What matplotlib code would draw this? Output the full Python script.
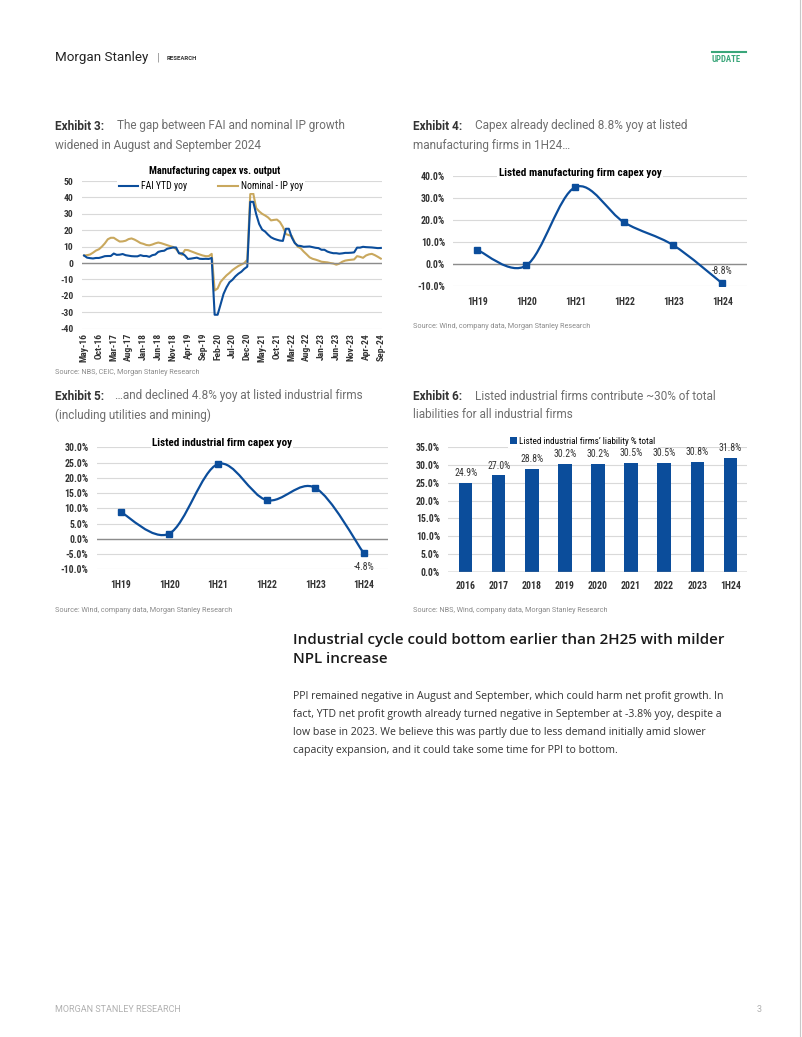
import matplotlib.pyplot as plt
import numpy as np
import pandas as pd
from matplotlib.path import Path
from matplotlib.patches import PathPatch
from matplotlib.lines import Line2D

plt.rcParams["axes.unicode_minus"] = False

# ---- data ----
months = pd.date_range("2016-05-01", "2024-09-01", freq="MS")
month_labels = [d.strftime("%b-%y") for d in months]

fai_ytd = [4.6, 3.3, 3.0, 2.8, 3.1, 3.1, 3.6, 4.2,
           4.3, 4.3, 5.8, 5.0, 5.1, 5.5, 4.8, 4.5, 4.2, 4.1, 4.1, 4.8,
           4.3, 4.3, 3.8, 4.8, 5.2, 6.8, 7.3, 7.5, 8.7, 9.1, 9.5, 9.5,
           5.9, 5.9, 4.6, 2.5, 2.7, 3.0, 3.3, 2.6, 2.5, 2.6, 2.5, 3.1,
           -31.5, -31.5, -25.2, -18.8, -14.8, -11.7, -10.2, -8.1, -6.5, -5.3, -3.5, -2.2,
           37.3, 37.3, 29.8, 23.8, 20.4, 19.2, 17.3, 15.7, 14.8, 14.2, 13.7, 13.5,
           20.9, 20.9, 15.6, 12.2, 10.6, 10.4, 9.9, 10.0, 10.1, 9.7, 9.3, 9.1,
           8.1, 8.1, 7.0, 6.4, 6.0, 6.0, 5.7, 5.9, 6.2, 6.2, 6.3, 6.5,
           9.4, 9.4, 9.9, 9.7, 9.6, 9.5, 9.3, 9.1, 9.2]

nominal_ip = [4.6, 4.8, 5.2, 6.3, 7.6, 8.4, 10.0, 12.0,
              14.5, 15.4, 15.4, 14.2, 13.1, 13.2, 13.6, 14.6, 15.0, 14.3, 13.3, 12.2,
              11.7, 11.0, 10.8, 11.3, 12.0, 12.5, 12.1, 11.5, 10.9, 10.3, 9.8, 8.5,
              6.2, 5.0, 8.0, 7.9, 7.2, 6.5, 5.8, 5.2, 4.6, 4.2, 4.2, 5.6,
              -16.7, -15.5, -11.5, -9.4, -7.5, -6.0, -4.3, -3.0, -1.8, -0.9, 0.0, 2.0,
              42.0, 42.5, 33.5, 31.5, 30.0, 29.0, 27.8, 26.0, 26.3, 26.5, 25.0, 22.0,
              17.7, 17.0, 16.5, 12.5, 10.0, 9.0, 7.0, 5.3, 3.5, 2.6, 2.1, 1.5,
              0.8, 0.6, 0.4, 0.0, -0.3, -1.0, -0.4, 0.8, 1.5, 1.8, 2.0, 2.2,
              4.2, 3.8, 3.2, 4.6, 5.3, 5.6, 4.8, 3.8, 2.7]

half_years = ["1H19", "1H20", "1H21", "1H22", "1H23", "1H24"]
mfg_capex = [6.3, -0.7, 34.8, 18.8, 8.5, -8.8]
ind_capex = [8.8, 1.7, 24.5, 12.7, 16.7, -4.8]

liab_years = ["2016", "2017", "2018", "2019", "2020", "2021", "2022", "2023", "1H24"]
liab_share = [24.9, 27.0, 28.8, 30.2, 30.2, 30.5, 30.5, 30.8, 31.8]

# ---- style ----
BLUE = "#0b4d9b"
GOLD = "#c9a85e"
GRID = "#d9d9d9"
ZERO = "#8c8c8c"
CH = ["Roboto Condensed", "DejaVu Sans"]
TXT = ["Roboto", "DejaVu Sans"]
HD = ["Open Sans", "DejaVu Sans"]

W, H = 802, 1037
fig = plt.figure(figsize=(W / 100, H / 100), dpi=100)


def ax_at(x0, y0, x1, y1):
    return fig.add_axes([x0 / W, 1 - y1 / H, (x1 - x0) / W, (y1 - y0) / H])


def txt(x, y, s, **kw):
    kw.setdefault("va", "center")
    kw.setdefault("family", TXT)
    return fig.text(x / W, 1 - y / H, s, **kw)


def style_ax(ax, size=6.8):
    for s in ax.spines.values():
        s.set_visible(False)
    ax.tick_params(length=0, labelsize=size, labelcolor="#333333")
    ax.yaxis.grid(True, color=GRID, lw=0.8)
    ax.set_axisbelow(True)
    for lab in ax.get_xticklabels() + ax.get_yticklabels():
        lab.set_family(CH)
        lab.set_fontweight("bold")


def smooth_path(x, y):
    pts = np.column_stack([x, y]).astype(float)
    n = len(pts)
    verts = [pts[0]]
    codes = [Path.MOVETO]
    for i in range(n - 1):
        p0 = pts[max(i - 1, 0)]
        p1 = pts[i]
        p2 = pts[i + 1]
        p3 = pts[min(i + 2, n - 1)]
        verts += [p1 + (p2 - p0) / 6, p2 - (p3 - p1) / 6, p2]
        codes += [Path.CURVE4] * 3
    return Path(verts, codes)


# ---- header / footer ----
txt(55, 58, "Morgan Stanley", fontsize=9.6, color="#222222", ha="left")
txt(157, 58, "|", fontsize=8, color="#888888", ha="left")
txt(167, 58.5, "RESEARCH", fontsize=4.3, color="#333333", ha="left", fontweight="bold")
txt(712, 59, "UPDATE", fontsize=6.3, color="#3aa67a", ha="left", fontweight="bold", family=CH)
fig.add_artist(Line2D([712 / W, 746 / W], [1 - 51.5 / H] * 2, color="#3aa67a", lw=1.5))
fig.add_artist(Line2D([800 / W] * 2, [0, 1], color="#c8c8c8", lw=0.8))
txt(55, 1010, "MORGAN STANLEY RESEARCH", fontsize=6.5, color="#b0b0b0", ha="left")
txt(757, 1010, "3", fontsize=6.5, color="#b0b0b0", ha="left")

# ---- exhibit titles ----
ex_titles = [
    (55, 126, "Exhibit 3:", 117, "The gap between FAI and nominal IP growth", "widened in August and September 2024"),
    (413, 126, "Exhibit 4:", 475, "Capex already declined 8.8% yoy at listed", "manufacturing firms in 1H24…"),
    (55, 396, "Exhibit 5:", 115, "…and declined 4.8% yoy at listed industrial firms", "(including utilities and mining)"),
    (413, 396, "Exhibit 6:", 475, "Listed industrial firms contribute ~30% of total", "liabilities for all industrial firms"),
]
for x, y, lab, x2, l1, l2 in ex_titles:
    txt(x, y, lab, fontsize=8.5, color="#333333", fontweight="bold", ha="left")
    txt(x2, y, l1, fontsize=8.5, color="#6e6e6e", ha="left")
    txt(x, y + 19, l2, fontsize=8.5, color="#6e6e6e", ha="left")

src_kw = dict(fontsize=5.2, color="#8a8a8a", ha="left")
txt(55, 372, "Source: NBS, CEIC, Morgan Stanley Research", **src_kw)
txt(413, 326, "Source: Wind, company data, Morgan Stanley Research", **src_kw)
txt(55, 611, "Source: Wind, company data, Morgan Stanley Research", **src_kw)
txt(413, 611, "Source: NBS, Wind, company data, Morgan Stanley Research", **src_kw)

# ---- Exhibit 3: line chart ----
ax3 = ax_at(81.7, 181, 382.3, 328.7)
idx = np.arange(len(months))
ax3.plot(idx, nominal_ip, color=GOLD, lw=1.5, label="Nominal - IP yoy")
ax3.plot(idx, fai_ytd, color=BLUE, lw=1.5, label="FAI YTD yoy")
ax3.axhline(0, color=ZERO, lw=1)
ax3.set_xlim(-0.8, 100.5)
ax3.set_ylim(-40, 50)
ax3.set_yticks(range(-40, 51, 10))
ax3.set_xticks(idx[::5])
ax3.set_xticklabels(month_labels[::5], rotation=90)
style_ax(ax3, 6.8)
ax3.tick_params(axis="y", pad=6)
ax3.tick_params(axis="x", pad=3)
txt(215, 171, "Manufacturing capex vs. output", fontsize=7.5, fontweight="bold", ha="center", family=CH)
h, l = ax3.get_legend_handles_labels()
fig.legend(h[::-1], l[::-1], loc="center", bbox_to_anchor=(211 / W, 1 - 186 / H), ncol=2,
           frameon=True, facecolor="white", edgecolor="none", framealpha=1,
           prop={"family": CH, "size": 7}, handlelength=2.0, columnspacing=3.2,
           handletextpad=0.3, borderpad=0.2, fancybox=False)


# ---- Exhibit 4 / 5: smoothed lines ----
def capex_chart(box, values, lims, step, title, title_xy, lab_off):
    ax = ax_at(*box)
    x = np.arange(len(half_years))
    ax.add_patch(PathPatch(smooth_path(x, values), fill=False, edgecolor=BLUE, lw=1.6, zorder=3))
    ax.plot(x, values, "s", color=BLUE, ms=4.2, zorder=4)
    ax.axhline(0, color=ZERO, lw=1)
    ax.set_xlim(-0.49, 5.5)
    ax.set_ylim(*lims)
    yt = np.arange(lims[0], lims[1] + 0.1, step)
    ax.set_yticks(yt)
    ax.set_yticklabels([f"{v:.1f}%" for v in yt])
    ax.set_xticks(x)
    ax.set_xticklabels(half_years)
    style_ax(ax, 7)
    ax.tick_params(axis="y", pad=6)
    ax.tick_params(axis="x", pad=8)
    ax.annotate(f"{values[-1]:.1f}%", (x[-1], values[-1]), xytext=(0, lab_off), textcoords="offset points",
                ha="center", va="center", fontsize=7, family=CH, color="#333333")
    txt(title_xy[0], title_xy[1], title, fontsize=8, fontweight="bold", ha="center", family=CH,
        bbox=dict(facecolor="white", edgecolor="none", pad=1))
    return ax


capex_chart((453.3, 175.7, 746.7, 286), mfg_capex, (-10, 40), 10,
            "Listed manufacturing firm capex yoy", (580, 172.5), 9)
capex_chart((96.7, 447.3, 388.3, 569.3), ind_capex, (-10, 30), 5,
            "Listed industrial firm capex yoy", (222, 442.7), -10)

# ---- Exhibit 6: bars ----
ax6 = ax_at(448.3, 446.7, 746.7, 572.3)
xb = np.arange(len(liab_years))
bars = ax6.bar(xb, liab_share, width=0.4, color=BLUE, label="Listed industrial firms’ liability % total", zorder=3)
for xi, v in zip(xb, liab_share):
    ax6.annotate(f"{v:.1f}%", (xi, v), xytext=(0, 7), textcoords="offset points",
                 ha="center", va="center", fontsize=7, family=CH, color="#333333")
ax6.axhline(0, color=ZERO, lw=1, zorder=4)
ax6.set_xlim(-0.53, 8.5)
ax6.set_ylim(0, 35)
yt6 = np.arange(0, 35.1, 5)
ax6.set_yticks(yt6)
ax6.set_yticklabels([f"{v:.1f}%" for v in yt6])
ax6.set_xticks(xb)
ax6.set_xticklabels(liab_years)
style_ax(ax6, 7)
ax6.tick_params(axis="y", pad=6)
ax6.tick_params(axis="x", pad=6)
fig.legend([bars], [bars.get_label()], loc="center", bbox_to_anchor=(583 / W, 1 - 441 / H),
           frameon=True, facecolor="white", edgecolor="none", framealpha=1,
           prop={"family": CH, "size": 6.6}, handlelength=0.7, handleheight=0.7,
           handletextpad=0.3, borderpad=0.3, fancybox=False)

# ---- section text ----
txt(293, 640, "Industrial cycle could bottom earlier than 2H25 with milder", fontsize=10.9,
    fontweight="semibold", ha="left", family=HD, color="#1a1a1a")
txt(293, 659, "NPL increase", fontsize=10.9, fontweight="semibold", ha="left", family=HD, color="#1a1a1a")
body = [
    "PPI remained negative in August and September, which could harm net profit growth. In",
    "fact, YTD net profit growth already turned negative in September at -3.8% yoy, despite a",
    "low base in 2023. We believe this was partly due to less demand initially amid slower",
    "capacity expansion, and it could take some time for PPI to bottom.",
]
for i, line in enumerate(body):
    txt(293, 697 + i * 18, line, fontsize=7.6, ha="left", family=HD, color="#333333")

fig.savefig("out.png", dpi=100)
